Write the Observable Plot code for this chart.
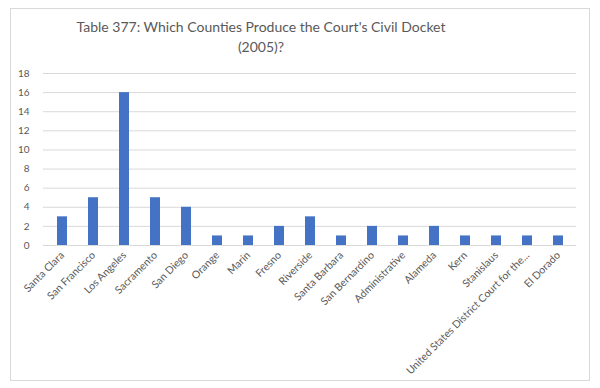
<!DOCTYPE html>
<html><head><meta charset="utf-8">
<script src="https://cdn.jsdelivr.net/npm/d3@7"></script>
<script src="https://cdn.jsdelivr.net/npm/@observablehq/plot@0.6"></script>
<style>
body{margin:0;background:#fff;font-family:Lato,"Open Sans",sans-serif;}
#frame{position:absolute;left:10px;top:8px;width:580px;height:373px;border:1px solid #d9d9d9;box-sizing:border-box;}
#title{position:relative;width:522px;height:62px;padding-top:17px;box-sizing:border-box;text-align:center;font-size:14px;line-height:20px;color:#595959;}
#chart{position:relative;}
</style></head>
<body>
<div id="frame"></div>
<div id="title">Table 377: Which Counties Produce the Court's Civil Docket<br>(2005)?</div>
<div id="chart"></div>
<script>
const counties = ["Santa Clara","San Francisco","Los Angeles","Sacramento","San Diego","Orange","Marin","Fresno","Riverside","Santa Barbara","San Bernardino","Administrative","Alameda","Kern","Stanislaus","United States District Court for the...","El Dorado"];
const counts = [3,5,16,5,4,1,1,2,3,1,2,1,2,1,1,1,1];
const yTicks = [0,2,4,6,8,10,12,14,16,18];
const data = counties.map((c,i)=>({county:c,value:counts[i]}));
const chart = Plot.plot({
  width:600, height:326,
  marginTop:11, marginLeft:43, marginRight:24, marginBottom:143,
  style:{fontFamily:"Lato, 'Open Sans', sans-serif", fontSize:"10px", color:"#595959", background:"transparent"},
  x:{domain:counties, paddingInner:0.68, paddingOuter:0.34, label:null, tickRotate:-45, tickSize:0, tickPadding:8},
  y:{domain:[0,18], ticks:yTicks, label:null, tickSize:0, tickPadding:14},
  marks:[
    Plot.ruleY(yTicks,{stroke:"#d9d9d9", strokeOpacity:1}),
    Plot.barY(data,{x:"county", y:"value", fill:"#4472c4"})
  ]
});
chart.querySelectorAll("g[aria-label='x-axis tick label'] text").forEach(t=>t.style.fontSize="10.5px");
document.getElementById("chart").appendChild(chart);
</script>
</body></html>
